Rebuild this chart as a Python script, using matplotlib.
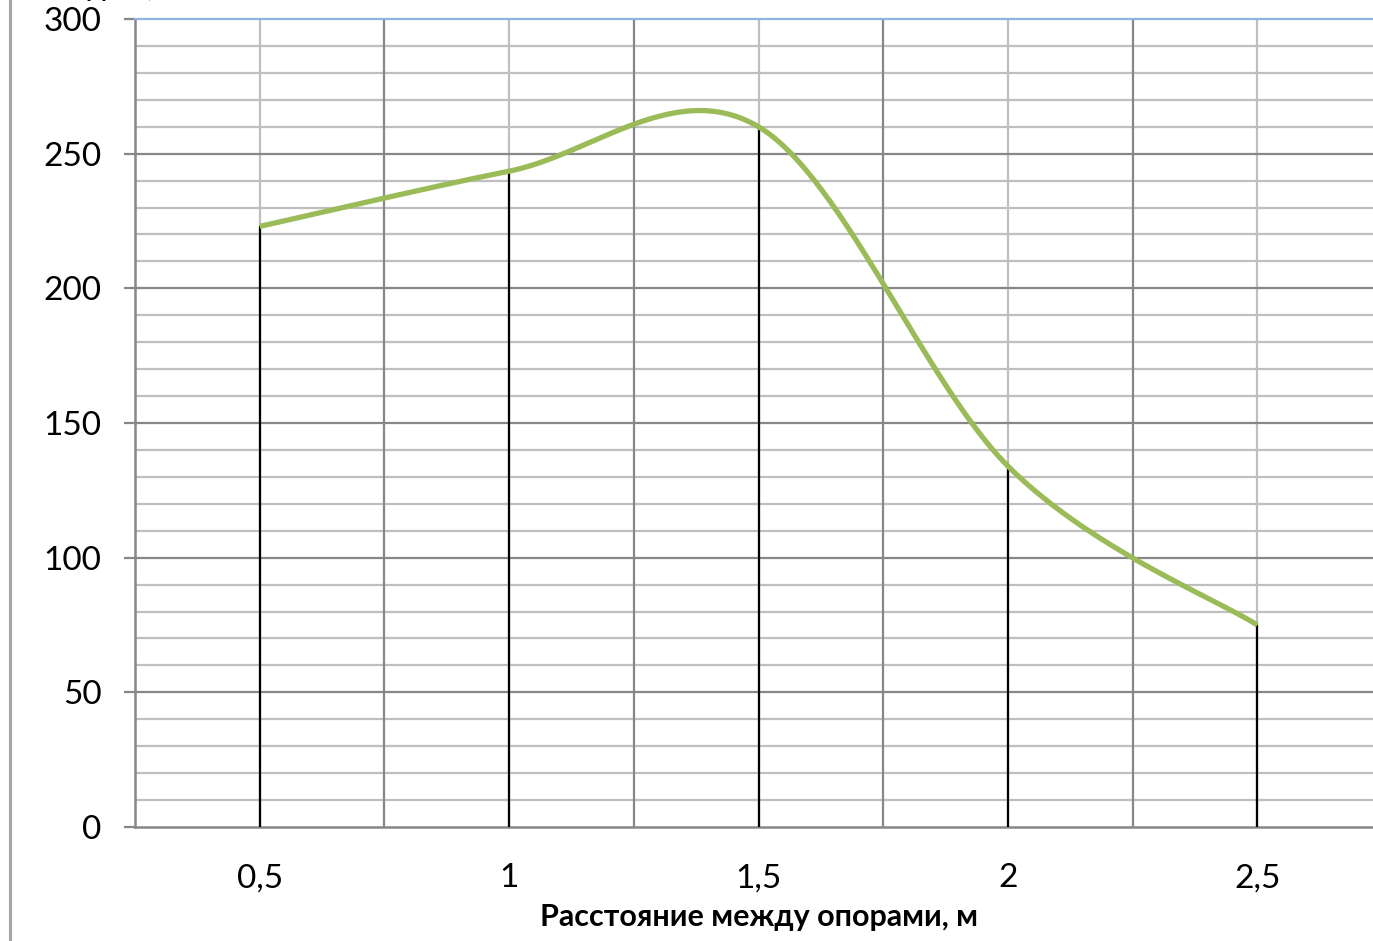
import numpy as np
import matplotlib
matplotlib.use("Agg")
import matplotlib.pyplot as plt
from matplotlib.lines import Line2D

# data
categories = ["0,5", "1", "1,5", "2", "2,5"]
loads = [223, 243.5, 260, 134, 75]
y_ticks = [0, 50, 100, 150, 200, 250, 300]
x_label = "Расстояние между опорами, м"
y_label = "Нагрузка, кг"

GREEN = "#9BBB59"
DARK_GRID = "#878787"
LIGHT_GRID = "#BFBFBF"

W, H, DPI = 1373, 941, 100
plt.rcParams["font.family"] = ["Lato", "DejaVu Sans"]


def smooth_curve(xs, ys, sx, sy, n=60):
    # Excel-like smoothed line: cubic Bezier with Catmull-Rom control points
    # computed in screen space (sx, sy = pixels per data unit)
    p = np.column_stack([np.asarray(xs, float) * sx, np.asarray(ys, float) * sy])
    out = []
    for i in range(len(p) - 1):
        p0 = p[i - 1] if i > 0 else p[i]
        p1, p2 = p[i], p[i + 1]
        p3 = p[i + 2] if i + 2 < len(p) else p[i + 1]
        c1 = p1 + (p2 - p0) / 6.0
        c2 = p2 - (p3 - p1) / 6.0
        t = np.linspace(0, 1, n)[:, None]
        seg = (1 - t) ** 3 * p1 + 3 * (1 - t) ** 2 * t * c1 + 3 * (1 - t) * t ** 2 * c2 + t ** 3 * p2
        out.append(seg if i == 0 else seg[1:])
    out = np.vstack(out)
    return out[:, 0] / sx, out[:, 1] / sy


fig = plt.figure(figsize=(W / DPI, H / DPI), dpi=DPI)
left, right, bottom, top = 135, 1382, 827, 19
ax = fig.add_axes([left / W, (H - bottom) / H, (right - left) / W, (bottom - top) / H])

x = np.arange(len(categories))
ax.set_xlim(-0.5, len(categories) - 0.5)
ax.set_ylim(0, 300)

# gridlines
for v in range(10, 300, 10):
    if v % 50:
        ax.axhline(v, color=LIGHT_GRID, lw=1.6, zorder=1)
for v in range(50, 300, 50):
    ax.axhline(v, color=DARK_GRID, lw=1.6, zorder=1.2)
for xc in x:
    ax.axvline(xc, color=LIGHT_GRID, lw=1.6, zorder=1.1)
for xb in x[:-1] + 0.5:
    ax.axvline(xb, color=DARK_GRID, lw=1.6, zorder=1.3)

# drop lines
ax.vlines(x, 0, loads, color="black", lw=1.6, zorder=3)

# smoothed series
sx = (right - left) / len(categories)
sy = (bottom - top) / 300.0
cx, cy = smooth_curve(x, loads, sx, sy)
ax.plot(cx, cy, color=GREEN, lw=3.8, solid_capstyle="butt", zorder=4)

ax.spines["right"].set_visible(False)
ax.spines["top"].set_color("#8EB4E3")
ax.spines["top"].set_linewidth(1.6)
ax.spines["left"].set_color(DARK_GRID)
ax.spines["left"].set_linewidth(1.8)
ax.spines["bottom"].set_color(DARK_GRID)
ax.spines["bottom"].set_linewidth(1.8)

ax.set_yticks(y_ticks)
ax.set_yticklabels([str(v) for v in y_ticks])
ax.tick_params(axis="y", length=8, width=1.6, color=DARK_GRID, pad=16, labelsize=24)
ax.set_xticks(x)
ax.set_xticklabels(categories)
ax.tick_params(axis="x", length=0, pad=26, labelsize=24)
ax.set_xlabel(x_label, fontsize=22, fontweight="bold", labelpad=7)

# outer chart border on the left and cut-off axis title at the top
fig.add_artist(Line2D([10 / W, 10 / W], [0, 1], color="#A6A6A6", lw=2.2))
fig.text(46 / W, 1 + 3 / H, y_label, fontsize=17, fontweight="bold",
         ha="left", va="baseline")

fig.savefig("out.png", dpi=DPI)
